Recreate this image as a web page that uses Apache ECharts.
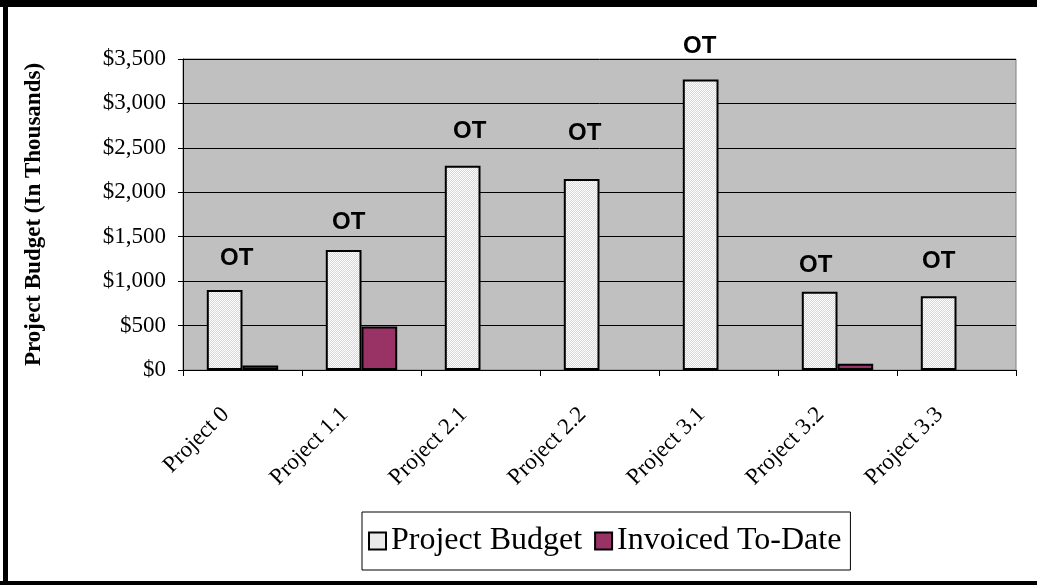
<!DOCTYPE html>
<html>
<head>
<meta charset="utf-8">
<script src="https://cdn.jsdelivr.net/npm/echarts@6/dist/echarts.min.js"></script>
<style>
html,body{margin:0;padding:0;background:#fff;}
#chart{width:1037px;height:585px;}
</style>
</head>
<body>
<div id="chart"></div>
<script>
const categories = ['Project 0','Project 1.1','Project 2.1','Project 2.2','Project 3.1','Project 3.2','Project 3.3'];
const projectBudget = [900, 1350, 2300, 2150, 3270, 880, 830];
const invoicedToDate = [50, 490, null, null, null, 70, null];
const statusLabels = ['OT','OT','OT','OT','OT','OT','OT'];
const yTicks = [0, 500, 1000, 1500, 2000, 2500, 3000, 3500];

// label nudges (style only)
const labelNudge = [[12,0],[5,4],[7,-2],[3,-14],[-1,-1],[-4,6],[0,-3]];

// dotted fill pattern
const pc = document.createElement('canvas');
pc.width = 2; pc.height = 2;
const pctx = pc.getContext('2d');
pctx.fillStyle = '#d6d6d6'; pctx.fillRect(0,0,2,2);
pctx.fillStyle = '#ffffff'; pctx.fillRect(0,0,1,1); pctx.fillRect(1,1,1,1);
const dotted = { image: pc, repeat: 'repeat' };

const chart = echarts.init(document.getElementById('chart'), null, {renderer:'canvas'});
const serif = '"Liberation Serif", "Times New Roman", serif';
const sans = '"Liberation Sans", Arial, sans-serif';

chart.setOption({
  animation: false,
  backgroundColor: '#ffffff',
  graphic: [
    {type:'rect', shape:{x:0,y:0,width:1037,height:7}, style:{fill:'#000'}, z:100},
    {type:'rect', shape:{x:3,y:0,width:5,height:585}, style:{fill:'#000'}, z:100},
    {type:'rect', shape:{x:0,y:581,width:1037,height:4}, style:{fill:'#000'}, z:100}
  ],
  grid: {
    left: 183, top: 59, right: 21, bottom: 215,
    show: true, backgroundColor: '#c0c0c0', borderColor: '#808080', borderWidth: 1
  },
  legend: {
    left: 362, top: 512,
    data: ['Project Budget','Invoiced To-Date'],
    itemWidth: 17, itemHeight: 17, itemGap: 12,
    borderColor: '#000', borderWidth: 1,
    padding: [13, 9, 13, 6],
    textStyle: {fontFamily: serif, fontSize: 32, color: '#000'},
    icon: 'rect'
  },
  xAxis: {
    type: 'category',
    data: categories,
    axisLine: {lineStyle: {color: '#000', width: 1}},
    axisTick: {show: true, length: 6, lineStyle: {color: '#000'}},
    axisLabel: {
      rotate: 45, margin: 24, fontFamily: serif, fontSize: 23, color: '#000', interval: 0,
      padding: [0, 24, 0, 0]
    },
    splitLine: {show: false}
  },
  yAxis: {
    type: 'value',
    min: yTicks[0], max: yTicks[yTicks.length-1], interval: 500,
    name: 'Project Budget (In Thousands)',
    nameLocation: 'middle', nameRotate: 90, nameGap: 137,
    nameTextStyle: {fontFamily: serif, fontSize: 23, fontWeight: 'bold', color: '#000'},
    axisLine: {show: true, lineStyle: {color: '#000', width: 1}},
    axisTick: {show: true, length: 5, lineStyle: {color: '#000'}},
    axisLabel: {
      margin: 17, fontFamily: serif, fontSize: 23, color: '#000',
      formatter: v => '$' + v.toLocaleString('en-US')
    },
    splitLine: {show: true, lineStyle: {color: '#000', width: 1}}
  },
  series: [
    {
      name: 'Project Budget',
      type: 'bar',
      barGap: '0%',
      barCategoryGap: '40%',
      itemStyle: {color: dotted, borderColor: '#000', borderWidth: 2},
      label: {
        show: true, position: 'top', distance: 20,
        fontFamily: sans, fontWeight: 'bold', fontSize: 24, color: '#000'
      },
      data: projectBudget.map((v, i) => ({
        value: v,
        label: {formatter: statusLabels[i], offset: labelNudge[i]}
      }))
    },
    {
      name: 'Invoiced To-Date',
      type: 'bar',
      barGap: '0%',
      barCategoryGap: '40%',
      itemStyle: {color: '#993366', borderColor: '#000', borderWidth: 2},
      data: invoicedToDate
    }
  ]
});
</script>
</body>
</html>
